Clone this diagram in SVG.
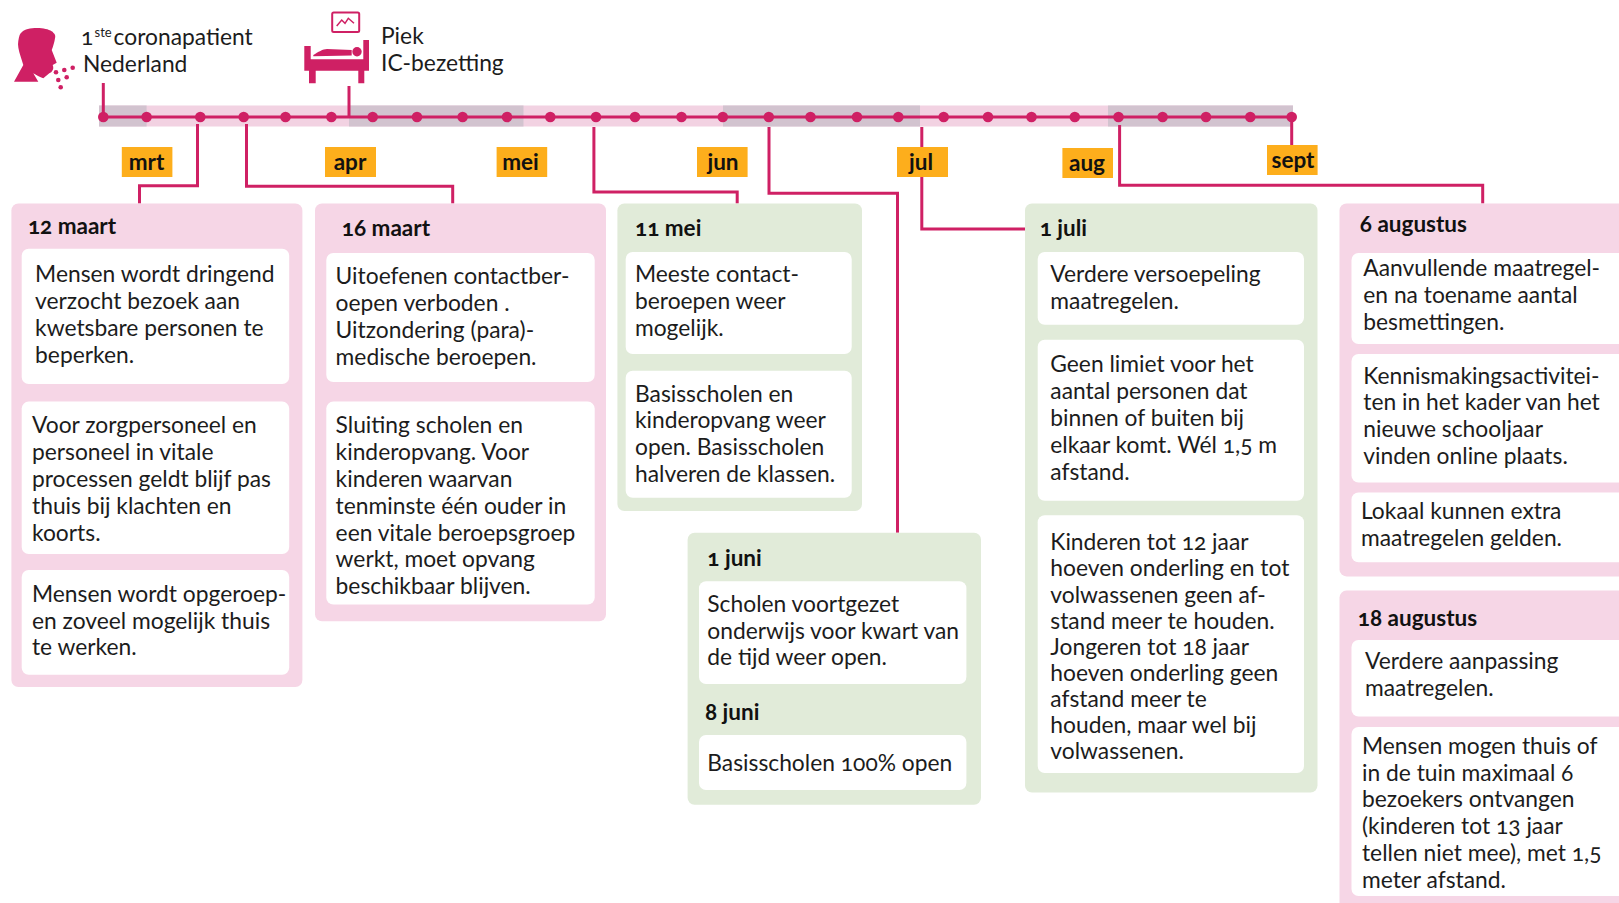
<svg xmlns="http://www.w3.org/2000/svg" width="1619" height="903" viewBox="0 0 1619 903">
<style>
text{font-family:"Lato","Noto Sans","Liberation Sans",sans-serif;fill:#1c1c1c;font-size:22.8px;font-feature-settings:"onum"}
.t{font-weight:700;font-size:22.5px;fill:#111}
.m{font-weight:700;font-size:22.5px;fill:#111;text-anchor:middle}
.p{fill:#f6d6e6}.g{fill:#e1ebd9}.w{fill:#fff}
.l{fill:#fdae1c}
.c{fill:none;stroke:#cf2064;stroke-width:3}
.d{fill:#cf2064}
</style>
<rect width="1619" height="903" fill="#fff"/>
<g id="timeline-band">
<rect x="99" y="105.5" width="1194" height="21" fill="#f2d2e2"/>
<g fill="#d2c3cf"><rect x="99" y="105.5" width="47.6" height="21"/><rect x="349" y="105.5" width="174.5" height="21"/><rect x="723" y="105.5" width="197" height="21"/><rect x="1108" y="105.5" width="185" height="21"/></g>
</g>
<g id="connectors">
<path class="c" d="M103.3 117H1291.7"/>
<path class="c" d="M103.3 83V117"/>
<path class="c" d="M349 86V117"/>
<path class="c" d="M197.5 124V185.8H139.5V203.4"/>
<path class="c" d="M246.5 124V186.3H452.7V203.4"/>
<path class="c" d="M593.9 127V192H737.2V203.4"/>
<path class="c" d="M769 127V193.3H897.5V532.8"/>
<path class="c" d="M921.8 127V229H1025"/>
<path class="c" d="M1119.6 125V185.3H1482.7V203.4"/>
<path class="c" d="M1291.7 117V146"/>
</g>
<g id="timeline-dots" class="d">
<circle cx="103.3" cy="117" r="5.3"/><circle cx="146.6" cy="117" r="5.3"/><circle cx="200.3" cy="117" r="5.3"/><circle cx="243.7" cy="117" r="5.3"/><circle cx="285.5" cy="117" r="5.3"/><circle cx="331.4" cy="117" r="5.3"/><circle cx="372.7" cy="117" r="5.3"/><circle cx="417" cy="117" r="5.3"/><circle cx="462.6" cy="117" r="5.3"/><circle cx="507" cy="117" r="5.3"/><circle cx="550.3" cy="117" r="5.3"/><circle cx="596" cy="117" r="5.3"/><circle cx="635" cy="117" r="5.3"/><circle cx="681.5" cy="117" r="5.3"/><circle cx="722.8" cy="117" r="5.3"/><circle cx="768.8" cy="117" r="5.3"/><circle cx="810.5" cy="117" r="5.3"/><circle cx="857" cy="117" r="5.3"/><circle cx="898.3" cy="117" r="5.3"/><circle cx="943.7" cy="117" r="5.3"/><circle cx="988" cy="117" r="5.3"/><circle cx="1031.5" cy="117" r="5.3"/><circle cx="1074.8" cy="117" r="5.3"/><circle cx="1118.5" cy="117" r="5.3"/><circle cx="1162.6" cy="117" r="5.3"/><circle cx="1206" cy="117" r="5.3"/><circle cx="1250.3" cy="117" r="5.3"/><circle cx="1291.7" cy="117" r="5.3"/>
</g>
<g id="month-labels">
<g id="m-mrt"><rect class="l" x="121.8" y="147" width="50.6" height="30"/><text class="m" x="146.5" y="170">mrt</text></g>
<g id="m-apr"><rect class="l" x="325" y="147" width="51" height="30"/><text class="m" x="350" y="170">apr</text></g>
<g id="m-mei"><rect class="l" x="496.6" y="147" width="50.6" height="30"/><text class="m" x="520.5" y="170">mei</text></g>
<g id="m-jun"><rect class="l" x="697" y="147" width="50.6" height="30"/><text class="m" x="723" y="170">jun</text></g>
<g id="m-jul"><rect class="l" x="897" y="147" width="51" height="30"/><text class="m" x="921" y="170">jul</text></g>
<g id="m-aug"><rect class="l" x="1062.4" y="148" width="50.6" height="30"/><text class="m" x="1087" y="171">aug</text></g>
<g id="m-sept"><rect class="l" x="1267" y="145" width="50.6" height="30"/><text class="m" x="1293" y="168">sept</text></g>
</g>
<g id="patient">
<path class="d" d="M14 81.7L23.3 65L20.7 56.7C18.5 50 17.5 45 18.3 41C19 36 20 33 22 32C25 29 33 27.5 41.7 28.3C47 29 52 30.5 53.3 32.7C55.5 34 55.5 37 55 38.3C54.5 42 53 47 51.7 50L56.7 62.7L52.7 65C53.5 67 53.5 69 52.7 70C52 72 50.5 72.7 49.3 73.3L43.3 78.3C40 77 36 75 33.3 73.3L38.3 81.7Z"/>
<g class="d"><circle cx="56" cy="72.3" r="2.3"/><circle cx="64.3" cy="70" r="2.3"/><circle cx="72.7" cy="67.7" r="2.3"/><circle cx="58.3" cy="80" r="2.3"/><circle cx="66.7" cy="77.3" r="2.3"/><circle cx="60.7" cy="87.3" r="2.3"/></g>
<text x="81" y="45.4">1<tspan x="94.5" font-size="13" dy="-8.5">ste</tspan><tspan x="113.6" dy="8.5">coronapatient</tspan><tspan x="83" dy="26.8">Nederland</tspan></text>
</g>
<g id="piek">
<rect x="332.2" y="12.5" width="27" height="19.5" rx="1.5" fill="#fff" stroke="#cf2064" stroke-width="2"/>
<path d="M336.7 26L341.7 20L345 23.3L348.3 18.3L354 23.3" fill="none" stroke="#cf2064" stroke-width="1.5"/>
<path class="d" d="M304.3 46H310.7V59.3H363.3V40H369V70.7H364.3V83.3H358.3V70.7H315.7V83.3H309V70.7H304.3Z"/>
<path class="d" d="M313.3 55C318 52 323 49 327 49L351.7 50V55.5L313.3 56.3Z"/>
<circle class="d" cx="357" cy="51.7" r="4.7"/>
<text x="381" y="44.3">Piek<tspan x="381" dy="26.8">IC-bezetting</tspan></text>
</g>
<g id="card-12-maart">
<rect class="p" x="11.4" y="203.4" width="291" height="483.6" rx="7"/>
<rect class="w" x="21.7" y="248.8" width="267.5" height="135.2" rx="7"/>
<rect class="w" x="21.7" y="401.6" width="267.5" height="152.4" rx="7"/>
<rect class="w" x="21.7" y="570" width="267.5" height="104.8" rx="7"/>
<text class="t" x="27.9" y="234.3">12 maart</text>
<text x="35.1" y="282.4">Mensen wordt dringend<tspan x="35.1" dy="26.85">verzocht bezoek aan</tspan><tspan x="35.1" dy="26.85">kwetsbare personen te</tspan><tspan x="35.1" dy="26.85">beperken.</tspan></text>
<text x="32" y="433.1">Voor zorgpersoneel en<tspan x="32" dy="26.85">personeel in vitale</tspan><tspan x="32" dy="26.85">processen geldt blijf pas</tspan><tspan x="32" dy="26.85">thuis bij klachten en</tspan><tspan x="32" dy="26.85">koorts.</tspan></text>
<text x="32" y="601.7">Mensen wordt opgeroep-<tspan x="32" dy="26.85">en zoveel mogelijk thuis</tspan><tspan x="32" dy="26.85">te werken.</tspan></text>
</g>
<g id="card-16-maart">
<rect class="p" x="315" y="203.4" width="291" height="417.8" rx="7"/>
<rect class="w" x="326.3" y="253" width="268.4" height="129" rx="7"/>
<rect class="w" x="326.3" y="401.6" width="268.4" height="203" rx="7"/>
<text class="t" x="341.8" y="236.4">16 maart</text>
<text x="335.6" y="284.4">Uitoefenen contactber-<tspan x="335.6" dy="26.85">oepen verboden .</tspan><tspan x="335.6" dy="26.85">Uitzondering (para)-</tspan><tspan x="335.6" dy="26.85">medische beroepen.</tspan></text>
<text x="335.6" y="433.1">Sluiting scholen en<tspan x="335.6" dy="26.85">kinderopvang. Voor</tspan><tspan x="335.6" dy="26.85">kinderen waarvan</tspan><tspan x="335.6" dy="26.85">tenminste één ouder in</tspan><tspan x="335.6" dy="26.85">een vitale beroepsgroep</tspan><tspan x="335.6" dy="26.85">werkt, moet opvang</tspan><tspan x="335.6" dy="26.85">beschikbaar blijven.</tspan></text>
</g>
<g id="card-11-mei">
<rect class="g" x="617.4" y="203.4" width="244.6" height="307.6" rx="7"/>
<rect class="w" x="625.7" y="252" width="226" height="102" rx="7"/>
<rect class="w" x="625.7" y="370.7" width="226" height="127" rx="7"/>
<text class="t" x="635" y="236.4">11 mei</text>
<text x="635" y="282.4">Meeste contact-<tspan x="635" dy="26.85">beroepen weer</tspan><tspan x="635" dy="26.85">mogelijk.</tspan></text>
<text x="635" y="401.6">Basisscholen en<tspan x="635" dy="26.85">kinderopvang weer</tspan><tspan x="635" dy="26.85">open. Basisscholen</tspan><tspan x="635" dy="26.85">halveren de klassen.</tspan></text>
</g>
<g id="card-juni">
<rect class="g" x="687.6" y="532.8" width="293.4" height="272" rx="7"/>
<rect class="w" x="699" y="581.3" width="267.4" height="102.7" rx="7"/>
<rect class="w" x="699" y="735" width="267.4" height="55" rx="7"/>
<text class="t" x="707.3" y="565.8">1 juni</text>
<text x="707.3" y="611.7">Scholen voortgezet<tspan x="707.3" dy="26.85">onderwijs voor kwart van</tspan><tspan x="707.3" dy="26.85">de tijd weer open.</tspan></text>
<text class="t" x="705" y="719.6">8 juni</text>
<text x="707.3" y="770.7">Basisscholen 100% open</text>
</g>
<g id="card-1-juli">
<rect class="g" x="1025" y="203.4" width="292.5" height="589.2" rx="7"/>
<rect class="w" x="1037.7" y="252" width="266.3" height="72.7" rx="7"/>
<rect class="w" x="1037.7" y="339.7" width="266.3" height="161.1" rx="7"/>
<rect class="w" x="1037.7" y="515.2" width="266.3" height="257.8" rx="7"/>
<text class="t" x="1039.7" y="236.4">1 juli</text>
<text x="1050.3" y="282.4">Verdere versoepeling<tspan x="1050.3" dy="26.85">maatregelen.</tspan></text>
<text x="1050.3" y="372.2">Geen limiet voor het<tspan x="1050.3" dy="26.85">aantal personen dat</tspan><tspan x="1050.3" dy="26.85">binnen of buiten bij</tspan><tspan x="1050.3" dy="26.85">elkaar komt. Wél 1,5 m</tspan><tspan x="1050.3" dy="26.85">afstand.</tspan></text>
<text x="1050.3" y="550.3">Kinderen tot 12 jaar<tspan x="1050.3" dy="26.1">hoeven onderling en tot</tspan><tspan x="1050.3" dy="26.1">volwassenen geen af-</tspan><tspan x="1050.3" dy="26.1">stand meer te houden.</tspan><tspan x="1050.3" dy="26.1">Jongeren tot 18 jaar</tspan><tspan x="1050.3" dy="26.1">hoeven onderling geen</tspan><tspan x="1050.3" dy="26.1">afstand meer te</tspan><tspan x="1050.3" dy="26.1">houden, maar wel bij</tspan><tspan x="1050.3" dy="26.1">volwassenen.</tspan></text>
</g>
<g id="card-6-augustus">
<rect class="p" x="1339.5" y="203.4" width="290" height="373" rx="7"/>
<rect class="w" x="1351.5" y="253" width="278" height="91" rx="7"/>
<rect class="w" x="1351.5" y="354" width="278" height="128.5" rx="7"/>
<rect class="w" x="1351.5" y="492.5" width="278" height="69.7" rx="7"/>
<text class="t" x="1359.8" y="232.3">6 augustus</text>
<text x="1363.3" y="276.1">Aanvullende maatregel-<tspan x="1363.3" dy="26.85">en na toename aantal</tspan><tspan x="1363.3" dy="26.85">besmettingen.</tspan></text>
<text x="1363.3" y="383.5">Kennismakingsactivitei-<tspan x="1363.3" dy="26.85">ten in het kader van het</tspan><tspan x="1363.3" dy="26.85">nieuwe schooljaar</tspan><tspan x="1363.3" dy="26.85">vinden online plaats.</tspan></text>
<text x="1361" y="518.8">Lokaal kunnen extra<tspan x="1361" dy="26.85">maatregelen gelden.</tspan></text>
</g>
<g id="card-18-augustus">
<rect class="p" x="1339.5" y="590.6" width="290" height="330" rx="7"/>
<rect class="w" x="1351.5" y="640" width="278" height="76.5" rx="7"/>
<rect class="w" x="1351.5" y="727" width="278" height="169" rx="7"/>
<text class="t" x="1357.8" y="625.7">18 augustus</text>
<text x="1365" y="669">Verdere aanpassing<tspan x="1365" dy="26.85">maatregelen.</tspan></text>
<text x="1362" y="753.7">Mensen mogen thuis of<tspan x="1362" dy="26.85">in de tuin maximaal 6</tspan><tspan x="1362" dy="26.85">bezoekers ontvangen</tspan><tspan x="1362" dy="26.85">(kinderen tot 13 jaar</tspan><tspan x="1362" dy="26.85">tellen niet mee), met 1,5</tspan><tspan x="1362" dy="26.85">meter afstand.</tspan></text>
</g>
</svg>
